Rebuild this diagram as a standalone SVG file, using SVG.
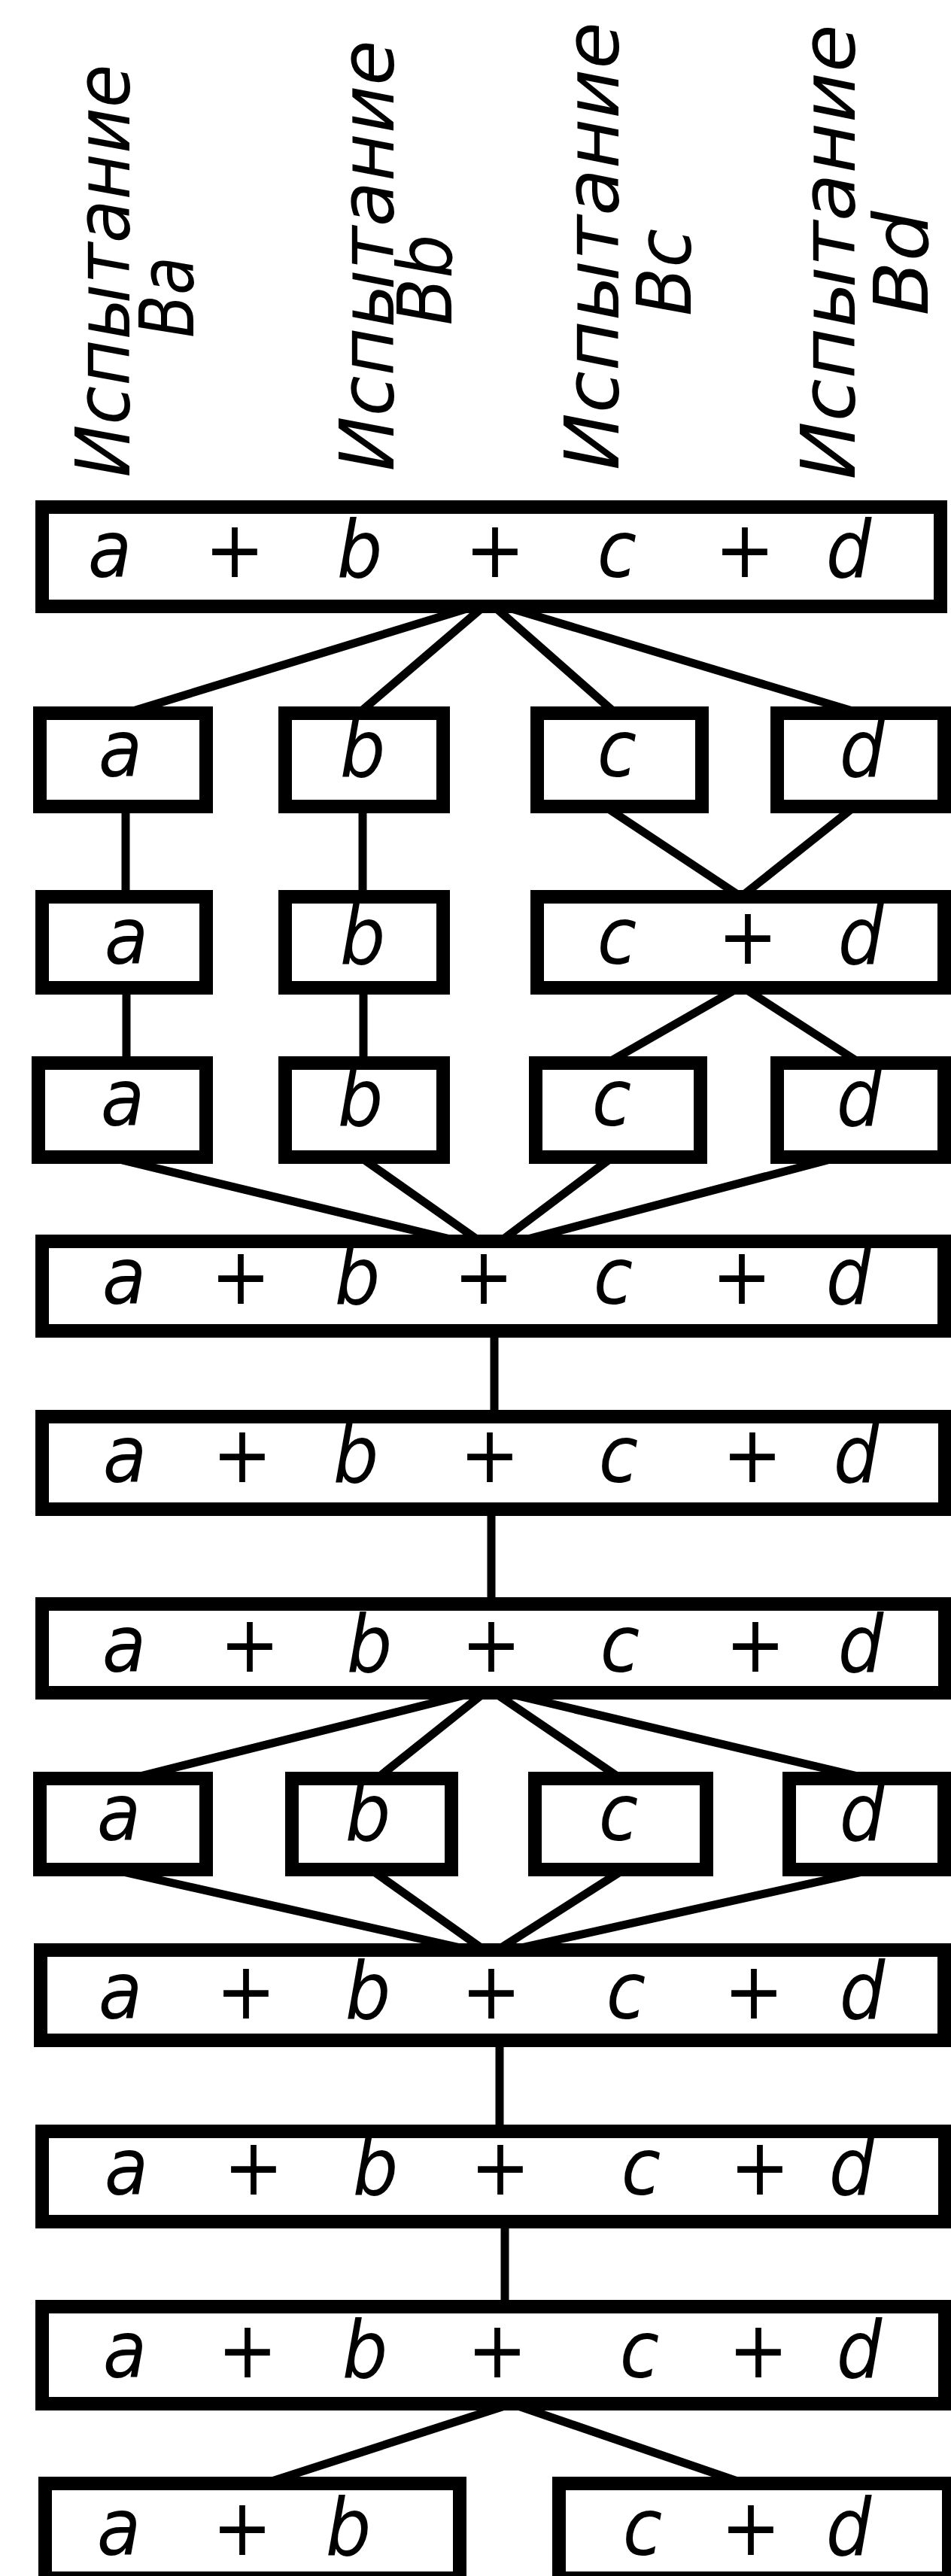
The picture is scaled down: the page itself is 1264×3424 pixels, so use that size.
<svg xmlns="http://www.w3.org/2000/svg" width="1264" height="3424" viewBox="0 0 1264 3424">
<style>
.box{fill:#fff;stroke:#000;stroke-width:18}
.t{font-family:"DejaVu Sans Condensed","DejaVu Sans","Liberation Sans",sans-serif;font-style:oblique;font-size:106px;fill:#000;text-anchor:middle}
.h{font-family:"DejaVu Sans Condensed","DejaVu Sans","Liberation Sans",sans-serif;font-style:oblique;font-size:100px;fill:#000;text-anchor:middle}
.c line{stroke:#000;stroke-width:11;stroke-linecap:butt}
</style>
<rect width="1264" height="3424" fill="#fff"/>
<g id="headers">
<g id="h-a"><text class="h" transform="translate(172,360) rotate(-90)" textLength="549" lengthAdjust="spacingAndGlyphs">Испытание</text><text class="h" transform="translate(257,395) rotate(-90)" textLength="108" lengthAdjust="spacingAndGlyphs">Ba</text></g>
<g id="h-b"><text class="h" transform="translate(523,340) rotate(-90)" textLength="573" lengthAdjust="spacingAndGlyphs">Испытание</text><text class="h" transform="translate(600,372) rotate(-90)" textLength="121" lengthAdjust="spacingAndGlyphs">Bb</text></g>
<g id="h-c"><text class="h" transform="translate(822,327) rotate(-90)" textLength="596" lengthAdjust="spacingAndGlyphs">Испытание</text><text class="h" transform="translate(918,362) rotate(-90)" textLength="116" lengthAdjust="spacingAndGlyphs">Bc</text></g>
<g id="h-d"><text class="h" transform="translate(1136,335) rotate(-90)" textLength="605" lengthAdjust="spacingAndGlyphs">Испытание</text><text class="h" transform="translate(1233,350) rotate(-90)" textLength="139" lengthAdjust="spacingAndGlyphs">Bd</text></g>
</g>
<g id="connectors" class="c">
<line x1="650" y1="800" x2="167" y2="948"/>
<line x1="650" y1="800" x2="477" y2="948"/>
<line x1="650" y1="800" x2="818" y2="948"/>
<line x1="650" y1="800" x2="1143" y2="948"/>
<line x1="167" y1="1075" x2="167" y2="1190"/>
<line x1="482" y1="1075" x2="482" y2="1190"/>
<line x1="804" y1="1072" x2="985" y2="1192"/>
<line x1="1136" y1="1072" x2="985" y2="1192"/>
<line x1="168" y1="1315" x2="168" y2="1410"/>
<line x1="483" y1="1315" x2="483" y2="1410"/>
<line x1="985" y1="1311" x2="807" y2="1413"/>
<line x1="985" y1="1311" x2="1143" y2="1413"/>
<line x1="146" y1="1538" x2="652" y2="1660"/>
<line x1="479" y1="1538" x2="652" y2="1660"/>
<line x1="814" y1="1538" x2="652" y2="1660"/>
<line x1="1115" y1="1538" x2="652" y2="1660"/>
<line x1="657" y1="1770" x2="657" y2="1880"/>
<line x1="653" y1="2008" x2="653" y2="2130"/>
<line x1="650" y1="2245" x2="174" y2="2364"/>
<line x1="650" y1="2245" x2="501" y2="2364"/>
<line x1="650" y1="2245" x2="825" y2="2364"/>
<line x1="650" y1="2245" x2="1153" y2="2364"/>
<line x1="150" y1="2485" x2="652" y2="2598"/>
<line x1="493" y1="2485" x2="652" y2="2598"/>
<line x1="829" y1="2485" x2="652" y2="2598"/>
<line x1="1160" y1="2485" x2="652" y2="2598"/>
<line x1="664" y1="2715" x2="664" y2="2830"/>
<line x1="671" y1="2955" x2="671" y2="3063"/>
<line x1="680" y1="3195" x2="352" y2="3301"/>
<line x1="680" y1="3195" x2="989" y2="3301"/>
</g>
<g id="r1"><rect class="box" x="56" y="674" width="1194" height="132"/><text class="t" y="767" x="146 229 312 396 478 568 658 740 820 905 990 1060 1128">a + b + c + d</text></g>
<g id="r2a"><rect class="box" x="53" y="948" width="221" height="124"/><text class="t" x="160" y="1032">a</text></g>
<g id="r2b"><rect class="box" x="379" y="948" width="210" height="124"/><text class="t" x="482" y="1032">b</text></g>
<g id="r2c"><rect class="box" x="714" y="948" width="219" height="124"/><text class="t" x="820" y="1032">c</text></g>
<g id="r2d"><rect class="box" x="1033" y="948" width="222" height="124"/><text class="t" x="1146" y="1032">d</text></g>
<g id="r3a"><rect class="box" x="56" y="1192" width="218" height="121"/><text class="t" x="168" y="1281">a</text></g>
<g id="r3b"><rect class="box" x="379" y="1192" width="210" height="121"/><text class="t" x="482" y="1281">b</text></g>
<g id="r3cd"><rect class="box" x="714" y="1192" width="541" height="121"/><text class="t" y="1281" x="820 907 994 1069 1144">c + d</text></g>
<g id="r4a"><rect class="box" x="51" y="1413" width="223" height="125"/><text class="t" x="163" y="1496">a</text></g>
<g id="r4b"><rect class="box" x="379" y="1413" width="210" height="125"/><text class="t" x="479" y="1496">b</text></g>
<g id="r4c"><rect class="box" x="712" y="1413" width="219" height="125"/><text class="t" x="813" y="1496">c</text></g>
<g id="r4d"><rect class="box" x="1033" y="1413" width="222" height="125"/><text class="t" x="1142" y="1496">d</text></g>
<g id="r5"><rect class="box" x="56" y="1650" width="1199" height="119"/><text class="t" y="1733" x="165 242 320 397 475 559 643 729 815 900 986 1057 1128">a + b + c + d</text></g>
<g id="r6"><rect class="box" x="56" y="1883" width="1200" height="123"/><text class="t" y="1970" x="166 244 322 397 473 562 651 736 822 911 1000 1069 1138">a + b + c + d</text></g>
<g id="r7"><rect class="box" x="56" y="2132" width="1200" height="118"/><text class="t" y="2222" x="165 248 332 411 491 572 653 738 824 914 1004 1074 1144">a + b + c + d</text></g>
<g id="r8a"><rect class="box" x="53" y="2364" width="221" height="121"/><text class="t" x="158" y="2446">a</text></g>
<g id="r8b"><rect class="box" x="388" y="2364" width="212" height="121"/><text class="t" x="489" y="2446">b</text></g>
<g id="r8c"><rect class="box" x="711" y="2364" width="228" height="121"/><text class="t" x="822" y="2446">c</text></g>
<g id="r8d"><rect class="box" x="1049" y="2364" width="206" height="121"/><text class="t" x="1146" y="2446">d</text></g>
<g id="r9"><rect class="box" x="54" y="2592" width="1201" height="120"/><text class="t" y="2683" x="160 244 327 408 489 571 653 742 832 917 1002 1074 1146">a + b + c + d</text></g>
<g id="r10"><rect class="box" x="56" y="2833" width="1200" height="120"/><text class="t" y="2917" x="168 253 337 418 499 582 665 758 852 931 1010 1071 1132">a + b + c + d</text></g>
<g id="r11"><rect class="box" x="56" y="3066" width="1200" height="129"/><text class="t" y="3160" x="166 248 329 407 485 573 661 756 850 929 1008 1075 1142">a + b + c + d</text></g>
<g id="r12ab"><rect class="box" x="60" y="3301" width="551" height="126"/><text class="t" y="3396" x="158 240 322 393 463">a + b</text></g>
<g id="r12cd"><rect class="box" x="743" y="3301" width="518" height="126"/><text class="t" y="3396" x="854 926 998 1063 1128">c + d</text></g>
</svg>
